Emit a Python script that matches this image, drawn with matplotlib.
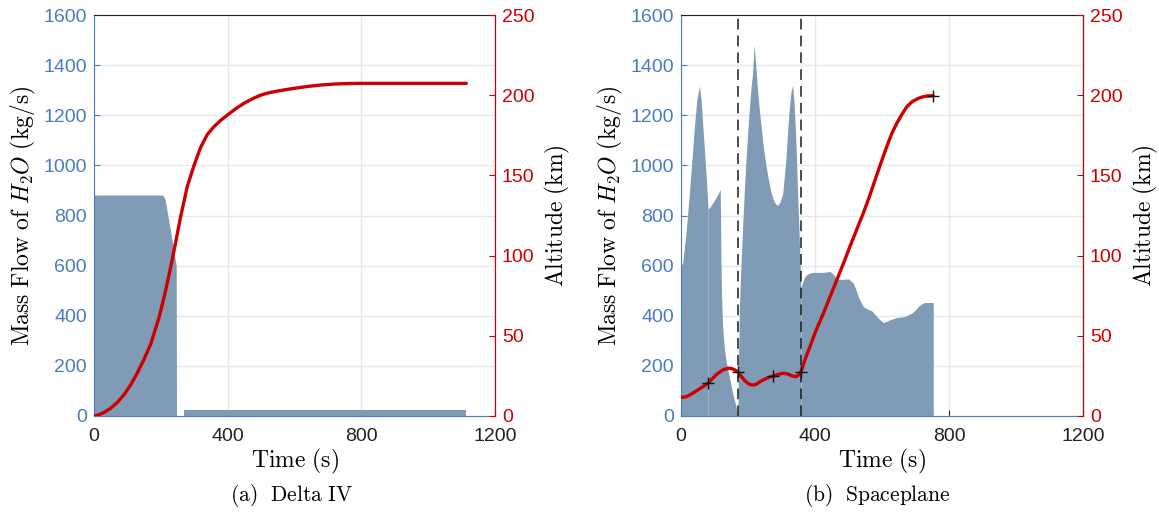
import matplotlib.pyplot as plt

plt.rcParams['mathtext.fontset'] = 'cm'
plt.rcParams['font.family'] = ['Liberation Sans', 'DejaVu Sans']

# (a) Delta IV
delta_flow_t1 = [0, 100, 204, 208, 213, 230, 246, 247]
delta_flow_m1 = [882, 882, 882, 878, 862, 730, 600, 0]
delta_flow_t2 = [268, 1114]
delta_flow_m2 = [25, 25]
delta_alt_t = [0, 15, 30, 50, 70, 90, 110, 130, 150, 170, 194, 212, 234,
               259, 279, 299, 319, 339, 359, 379, 399, 424, 449, 474, 499,
               524, 549, 574, 599, 640, 680, 720, 760, 800, 900, 1000, 1114]
delta_alt = [0, 0.8, 2.2, 4.8, 8.5, 13.3, 19.5, 27, 35.5, 45, 61, 76, 97.3,
             124, 143, 156, 167.5, 175.5, 180.4, 184.3, 187.6, 191.6, 195,
             197.8, 200.1, 201.6, 202.6, 203.5, 204.3, 205.5, 206.4, 207,
             207.3, 207.4, 207.4, 207.4, 207.4]

# (b) Spaceplane, mass flow split in burn segments
plane_flow = [
    ([0, 5, 15, 25, 32, 40, 47, 55, 60, 65, 70, 75, 81],
     [600, 611, 731, 890, 1010, 1157, 1260, 1317, 1260, 1157, 1060, 957,
      824]),
    ([81, 95, 110, 117, 118, 119, 121, 124, 129, 134, 144, 154, 162, 166,
      170],
     [824, 851, 884, 904, 800, 640, 480, 357, 275, 224, 157, 91, 50, 24, 0]),
    ([170, 172, 174, 179, 184, 189, 194, 199, 204, 209, 214, 218, 222, 229,
      234, 239, 246, 254, 262, 269, 276],
     [0, 250, 424, 600, 757, 900, 1024, 1130, 1224, 1310, 1371, 1480, 1420,
      1291, 1220, 1157, 1070, 997, 935, 891, 862]),
    ([276, 283, 289, 296, 304, 308, 313, 318, 323, 328, 333, 337, 341, 345,
      348, 352, 355, 358],
     [862, 845, 841, 855, 891, 950, 1024, 1130, 1224, 1290, 1320, 1260, 1157,
      1020, 891, 750, 624, 504]),
    ([358, 362, 368, 375, 385, 395, 410, 425, 445, 455, 465, 480, 500, 514,
      522, 529, 537, 544, 555, 569, 580, 589, 597, 604, 614, 624, 644, 669,
      689, 700, 708, 718, 728, 740, 753],
     [504, 530, 552, 564, 570, 573, 573, 573, 577, 565, 547, 545, 547, 531,
      505, 477, 455, 437, 428, 420, 404, 390, 380, 373, 378, 384, 393, 397,
      411, 424, 437, 447, 453, 453, 453]),
]
plane_alt_t = [0, 10, 20, 35, 50, 65, 80, 95, 110, 125, 139, 150, 160, 169,
               179, 189, 200, 208, 216, 224, 234, 244, 259, 274, 289, 304,
               318, 333, 343, 350, 358, 366, 375, 385, 400, 425, 445, 465,
               485, 504, 524, 544, 562, 579, 597, 614, 630, 644, 660, 674,
               690, 708, 720, 733, 753]
plane_alt = [11.6, 11.8, 12.4, 14.2, 16.2, 18.2, 20.4, 23.6, 26.6, 28.7, 29.7,
             29.6, 28.8, 27.6, 25, 22.4, 20.3, 19.5, 19.3, 19.8, 21.1, 22.4,
             23.8, 24.9, 25.9, 26.6, 26.3, 24.9, 24.5, 25.3, 27.6, 32.5, 38,
             43.2, 51.8, 64, 74.4, 84.8, 95.2, 105.5, 116, 126.4, 136.5, 147,
             157.9, 167.9, 176.5, 182.5, 188.3, 192.8, 196, 198, 198.9,
             199.5, 199.7]
plane_marks_t = [80, 169, 274, 358, 753]
plane_marks_alt = [20.4, 27.6, 24.9, 27.6, 199.7]
plane_stages = [170, 358]

blue = '#4a7cbf'
red = '#cc0000'
fill_col = '#7f9bb5'
grid_col = '#e3e8ef'

fig = plt.figure(figsize=(11.59, 5.14), dpi=100)
ax1 = fig.add_axes([0.0811, 0.1907, 0.346, 0.780])
ax2 = fig.add_axes([0.5876, 0.1907, 0.3468, 0.780])


def style(ax):
    ax.set_xlim(0, 1200)
    ax.set_ylim(0, 1600)
    ax.set_xticks([0, 400, 800, 1200])
    ax.set_yticks(range(0, 1601, 200))
    ax.grid(True, color=grid_col, linewidth=1.0)
    ax.set_axisbelow(True)
    ax.tick_params(axis='y', colors=blue, labelsize=14, direction='in',
                   length=4, pad=5)
    ax.tick_params(axis='x', colors='#222222', labelsize=14, direction='in',
                   length=4, pad=9)
    ax.spines['left'].set_color(blue)
    ax.spines['bottom'].set_color(blue)
    ax.spines['top'].set_color('#222222')
    ax.set_xlabel(r'$\mathrm{Time\ (s)}$', fontsize=17, labelpad=1)
    ax.set_ylabel(r'$\mathrm{Mass\ Flow\ of\ }H_2O\mathrm{\ (kg/s)}$',
                  fontsize=17, labelpad=4)
    tw = ax.twinx()
    tw.set_ylim(0, 250)
    tw.set_yticks(range(0, 251, 50))
    tw.tick_params(axis='y', colors=red, labelsize=14, direction='in',
                   length=4, pad=5)
    tw.spines['right'].set_color(red)
    tw.spines['left'].set_visible(False)
    tw.spines['top'].set_visible(False)
    tw.spines['bottom'].set_visible(False)
    tw.set_ylabel(r'$\mathrm{Altitude\ (km)}$', fontsize=17, labelpad=6)
    return tw


tw1 = style(ax1)
ax1.fill_between(delta_flow_t1, delta_flow_m1, color=fill_col, linewidth=0)
ax1.fill_between(delta_flow_t2, delta_flow_m2, color=fill_col, linewidth=0)
tw1.plot(delta_alt_t, delta_alt, color=red, linewidth=2.4,
         solid_capstyle='round', solid_joinstyle='round')

tw2 = style(ax2)
for seg_t, seg_m in plane_flow:
    ax2.fill_between(seg_t, seg_m, color=fill_col, linewidth=0)
for st in plane_stages:
    ax2.axvline(st, color='#1a1a1a', linestyle=(0, (7, 4)), linewidth=1.1)
tw2.plot(plane_alt_t, plane_alt, color=red, linewidth=2.4,
         solid_capstyle='round', solid_joinstyle='round')
tw2.plot(plane_marks_t, plane_marks_alt, linestyle='none', marker='+',
         color='#111111', markersize=9, markeredgewidth=1.0)

fig.text(0.2516, 0.025, r'$\mathrm{(a)\ \ Delta\ IV}$', ha='center',
         fontsize=15.5)
fig.text(0.757, 0.025, r'$\mathrm{(b)\ \ Spaceplane}$', ha='center',
         fontsize=15.5)

fig.savefig('out.png', dpi=100)
